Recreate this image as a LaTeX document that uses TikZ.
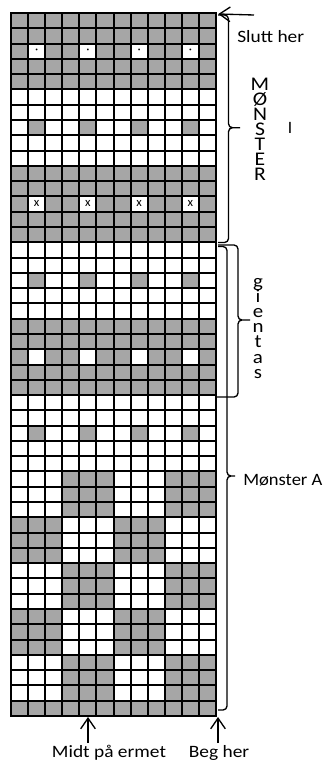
\documentclass[tikz,border=0pt]{standalone}
\usepackage{fontspec}
\setmainfont{Carlito}
\usetikzlibrary{arrows.meta}
\definecolor{cellgray}{RGB}{166,166,166}
\begin{document}
\begin{tikzpicture}[x=0.75pt,y=-0.75pt,
  lab/.style={inner sep=0pt, font=\fontsize{13}{15}\selectfont},
  vlet/.style={inner sep=0pt, anchor=base, font=\fontsize{14.5}{15}\selectfont},
  cellmark/.style={inner sep=0pt, font=\fontsize{9.5}{10}\selectfont},
  arr/.style={line width=1pt,-{Straight Barb[length=8pt,width=11pt]}},
  brc/.style={line width=1pt, rounded corners=3pt},
  gl/.style={line width=1.5pt}]
\useasboundingbox (0,0) rectangle (324,760);
\fill[white] (0,0) rectangle (324,760);
% ---------- knitting chart: 12 columns x 46 rows ----------
\begin{scope}[shift={(11,13)}, x=12.8125pt, y=-11.462pt]
  \fill[cellgray] (0,0) rectangle (12,5);
  \fill[cellgray] (0,10) rectangle (12,15);
  \fill[cellgray] (0,20) rectangle (12,25);
  \fill[cellgray] (0,45) rectangle (12,46);
  \foreach \c in {1,4,7,10} {
    \fill[white] (\c,2) rectangle ++(1,1);
    \fill[white] (\c,12) rectangle ++(1,1);
    \fill[white] (\c,22) rectangle ++(1,1);
    \fill[cellgray] (\c,7) rectangle ++(1,1);
    \fill[cellgray] (\c,17) rectangle ++(1,1);
    \fill[cellgray] (\c,27) rectangle ++(1,1);
    \node[cellmark] (dot\c) at (\c+0.5,2.5) {·};
    \node[cellmark] (x\c) at (\c+0.5,12.45) {x};
  }
  \foreach \r in {30,36,42} {
    \fill[cellgray] (3,\r) rectangle (6,\r+3);
    \fill[cellgray] (9,\r) rectangle (12,\r+3);
  }
  \foreach \r in {33,39} {
    \fill[cellgray] (0,\r) rectangle (3,\r+3);
    \fill[cellgray] (6,\r) rectangle (9,\r+3);
  }
  \foreach \i in {0,...,12} \draw[gl] (\i,0) -- (\i,46);
  \foreach \j in {0,...,46} \draw[gl] (0,\j) -- (12,\j);
  \draw[line width=1.8pt] (0,0) rectangle (12,46);
\end{scope}
% ---------- labels ----------
\node[lab, anchor=base west] (slutt) at (237,42) {\scalebox{1.12}[1]{Slutt her}};
\foreach \L [count=\k] in {M,Ø,N,S,T,E,R}
  \node[vlet] (mI\k) at (260,75+15*\k) {\scalebox{1.12}[1]{\L}};
\node[lab, anchor=base] (romanI) at (290,133) {I};
\foreach \L [count=\k] in {g,i,e,n,t,a,s}
  \node[vlet, font=\fontsize{14}{15}\selectfont] (gj\k) at (258,271.8+15.2*\k) {\scalebox{1.12}[1]{\L}};
\node[lab, anchor=base west] (monsterA) at (243,485) {\scalebox{1.07}[1]{Mønster A}};
\node[lab, anchor=base] (midt) at (109,757) {\scalebox{1.12}[1]{Midt på ermet}};
\node[lab, anchor=base] (beg) at (219,757) {\scalebox{1.12}[1]{Beg her}};
% ---------- arrows ----------
\coordinate (sluttTail) at (254,15);
\coordinate (sluttTip) at (218.3,14);
\coordinate (midtTail) at (88,743);
\coordinate (midtTip) at (88,717);
\coordinate (begTail) at (218,743);
\coordinate (begTip) at (218,717);
\draw[arr] (sluttTail) -- (sluttTip);
\draw[arr] (midtTail) -- (midtTip);
\draw[arr] (begTail) -- (begTip);
% ---------- braces ----------
\draw[brc] (218,15) -| (228.5,127.7) -- (240,127.7)
           (240,127.7) -| (228.5,242.5) -- (218,242.5);
\draw[brc] (218,245) -| (238,320) -- (250,320)
           (250,320) -| (238,397) -- (217,397);
\draw[brc] (218,246.5) -| (227,476) -- (235,476)
           (235,476) -| (227,710) -- (218,710);
\end{tikzpicture}
\end{document}
